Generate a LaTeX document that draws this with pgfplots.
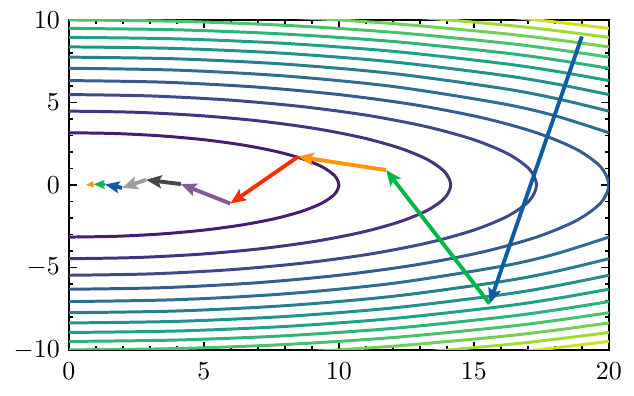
\documentclass[border=0pt]{standalone}
\usepackage{pgfplots}
\pgfplotsset{compat=1.18}
\usetikzlibrary{arrows.meta}
\definecolor{v1}{HTML}{481C6E}
\definecolor{v2}{HTML}{46327E}
\definecolor{v3}{HTML}{3F4889}
\definecolor{v4}{HTML}{365C8D}
\definecolor{v5}{HTML}{2E6E8E}
\definecolor{v6}{HTML}{277F8E}
\definecolor{v7}{HTML}{21918C}
\definecolor{v8}{HTML}{1FA188}
\definecolor{v9}{HTML}{2EB37C}
\definecolor{v10}{HTML}{4AC16D}
\definecolor{v11}{HTML}{73D056}
\definecolor{v12}{HTML}{A0DA39}
\definecolor{v13}{HTML}{D0E11C}
\definecolor{sblue}{HTML}{0C5DA5}
\definecolor{sgreen}{HTML}{00B945}
\definecolor{sorange}{HTML}{FF9500}
\definecolor{sred}{HTML}{FF2C00}
\definecolor{spurple}{HTML}{845B97}
\definecolor{sdgray}{HTML}{474747}
\definecolor{sgray}{HTML}{9E9E9E}
\begin{document}
\begin{tikzpicture}
\useasboundingbox (-26.6pt,-17.8pt) rectangle (218.2pt,135.1pt);
\begin{axis}[
  at={(0,0)}, anchor=south west,
  scale only axis, width=208.5pt, height=127.4pt,
  xmin=0, xmax=20, ymin=-10, ymax=10,
  xtick={0,5,10,15,20}, ytick={-10,-5,0,5,10},
  minor x tick num=4, minor y tick num=4,
  tick align=inside, tick pos=both,
  major tick length=3.1pt, minor tick length=1.6pt,
  axis line style={line width=0.75pt},
  every tick/.append style={black, line width=0.6pt},
  xticklabel style={yshift=-1.5pt},
  ct/.style={line width=1.15pt, smooth},
  ar/.style={line width=1.5pt, -{Stealth[length=6pt, width=5pt, inset=1.2pt]}},
]
% contour f = x^2 + 10 y^2, levels 100..1300
\addplot[ct, v1] coordinates {(0,-3.162) (1.736,-3.114) (3.420,-2.972) (5.0,-2.739) (6.428,-2.422) (7.660,-2.033) (8.660,-1.581) (9.397,-1.081) (9.848,-0.549) (10,0) (9.848,0.549) (9.397,1.081) (8.660,1.581) (7.660,2.033) (6.428,2.422) (5.0,2.739) (3.420,2.972) (1.736,3.114) (0,3.162)};
\addplot[ct, v2] coordinates {(0,-4.472) (2.455,-4.404) (4.837,-4.202) (7.071,-3.873) (9.091,-3.426) (10.833,-2.875) (12.247,-2.236) (13.289,-1.530) (13.927,-0.776) (14.142,0) (13.927,0.776) (13.289,1.530) (12.247,2.236) (10.833,2.875) (9.091,3.426) (7.071,3.873) (4.837,4.202) (2.455,4.404) (0,4.472)};
\addplot[ct, v3] coordinates {(0,-5.477) (3.007,-5.394) (5.924,-5.147) (8.660,-4.743) (11.134,-4.196) (13.268,-3.521) (15.0,-2.739) (16.276,-1.873) (17.057,-0.951) (17.321,0) (17.057,0.951) (16.276,1.873) (15.0,2.739) (13.268,3.521) (11.134,4.196) (8.660,4.743) (5.924,5.147) (3.007,5.394) (0,5.477)};
\addplot[ct, v4] coordinates {(0,-6.325) (3.473,-6.229) (6.840,-5.944) (10,-5.477) (12.856,-4.845) (15.321,-4.066) (17.321,-3.162) (18.794,-2.163) (19.696,-1.098) (20,0) (19.696,1.098) (18.794,2.163) (17.321,3.162) (15.321,4.066) (12.856,4.845) (10,5.477) (6.840,5.944) (3.473,6.229) (0,6.325)};
\addplot[ct, v5] coordinates {(0,7.071) (4,6.957) (8,6.603) (12,5.967) (16,4.940) (18,4.195) (20,3.162)};
\addplot[ct, v5] coordinates {(0,-7.071) (4,-6.957) (8,-6.603) (12,-5.967) (16,-4.940) (18,-4.195) (20,-3.162)};
\addplot[ct, v6] coordinates {(0,7.746) (4,7.642) (8,7.321) (12,6.753) (16,5.865) (18,5.254) (20,4.472)};
\addplot[ct, v6] coordinates {(0,-7.746) (4,-7.642) (8,-7.321) (12,-6.753) (16,-5.865) (18,-5.254) (20,-4.472)};
\addplot[ct, v7] coordinates {(0,8.367) (4,8.270) (8,7.975) (12,7.457) (16,6.663) (18,6.132) (20,5.477)};
\addplot[ct, v7] coordinates {(0,-8.367) (4,-8.270) (8,-7.975) (12,-7.457) (16,-6.663) (18,-6.132) (20,-5.477)};
\addplot[ct, v8] coordinates {(0,8.944) (4,8.854) (8,8.579) (12,8.099) (16,7.376) (18,6.899) (20,6.325)};
\addplot[ct, v8] coordinates {(0,-8.944) (4,-8.854) (8,-8.579) (12,-8.099) (16,-7.376) (18,-6.899) (20,-6.325)};
\addplot[ct, v9] coordinates {(0,9.487) (4,9.402) (8,9.143) (12,8.695) (16,8.025) (18,7.589) (20,7.071)};
\addplot[ct, v9] coordinates {(0,-9.487) (4,-9.402) (8,-9.143) (12,-8.695) (16,-8.025) (18,-7.589) (20,-7.071)};
\addplot[ct, v10] coordinates {(0,10) (4,9.920) (8,9.675) (12,9.252) (16,8.626) (18,8.222) (20,7.746)};
\addplot[ct, v10] coordinates {(0,-10) (4,-9.920) (8,-9.675) (12,-9.252) (16,-8.626) (18,-8.222) (20,-7.746)};
\addplot[ct, v11] coordinates {(0,10.488) (4,10.412) (8,10.178) (12,9.778) (16,9.187) (18,8.809) (20,8.367)};
\addplot[ct, v11] coordinates {(0,-10.488) (4,-10.412) (8,-10.178) (12,-9.778) (16,-9.187) (18,-8.809) (20,-8.367)};
\addplot[ct, v12] coordinates {(0,10.954) (4,10.881) (8,10.658) (12,10.276) (16,9.716) (18,9.359) (20,8.944)};
\addplot[ct, v12] coordinates {(0,-10.954) (4,-10.881) (8,-10.658) (12,-10.276) (16,-9.716) (18,-9.359) (20,-8.944)};
\addplot[ct, v13] coordinates {(0,11.402) (4,11.331) (8,11.118) (12,10.752) (16,10.218) (18,9.879) (20,9.487)};
\addplot[ct, v13] coordinates {(0,-11.402) (4,-11.331) (8,-11.118) (12,-10.752) (16,-10.218) (18,-9.879) (20,-9.487)};
% optimisation path
\addplot[ar, sblue] coordinates {(19,9) (15.58,-7.2)};
\addplot[ar, sgreen] coordinates {(15.58,-7.2) (11.75,0.90)};
\addplot[ar, sorange] coordinates {(11.75,0.90) (8.49,1.71)};
\addplot[ar, sred] coordinates {(8.49,1.71) (5.98,-1.13)};
\addplot[ar, spurple] coordinates {(5.98,-1.13) (4.15,0.05)};
\addplot[ar, sdgray] coordinates {(4.15,0.05) (2.86,0.31)};
\addplot[ar, sgray] coordinates {(2.86,0.31) (1.97,-0.18)};
\addplot[sblue, line width=1.5pt, -{Stealth[length=5.5pt, width=4.5pt, inset=1pt]}] coordinates {(1.97,-0.18) (1.34,0.03)};
\addplot[sgreen, line width=1.2pt, -{Stealth[length=4.2pt, width=3.4pt, inset=0.8pt]}] coordinates {(1.34,0.03) (0.92,0.04)};
\addplot[sorange, line width=1pt, -{Stealth[length=3pt, width=2.4pt, inset=0.5pt]}] coordinates {(0.92,0.04) (0.63,0.0)};
\end{axis}
\end{tikzpicture}
\end{document}
